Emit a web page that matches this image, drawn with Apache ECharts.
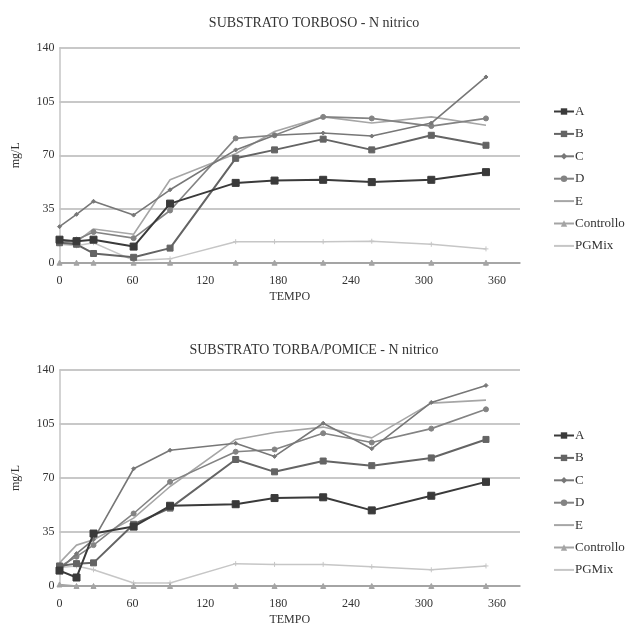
<!DOCTYPE html>
<html>
<head>
<meta charset="utf-8">
<script src="https://cdn.jsdelivr.net/npm/echarts@6/dist/echarts.min.js"></script>
<style>
html,body{margin:0;padding:0;background:#fff;}
#c{width:628px;height:627px;}
</style>
</head>
<body>
<div id="c"></div>
<script>
// Time points (days)
var days = [0, 14, 28, 61, 91, 145, 177, 217, 257, 306, 351];
var seriesNames = ['A', 'B', 'C', 'D', 'E', 'Controllo', 'PGMix'];
var yTicks = [0, 35, 70, 105, 140];
var xTicks = [0, 60, 120, 180, 240, 300, 360];

// SUBSTRATO TORBOSO
var tA = [15, 14, 15, 10.5, 38.5, 52, 53.5, 54, 52.5, 54, 59];
var tB = [13, 12, 6, 3.5, 9.5, 68, 73.5, 80.5, 73.5, 83, 76.5];
var tC = [23.5, 31.5, 40, 31, 47.5, 73.5, 83, 84.5, 82.5, 91, 121];
var tD = [13, 15, 20, 16, 34, 81, 83, 95, 94, 89, 94];
var tE = [12.5, 13.5, 22, 18.5, 54, 71, 85.5, 95, 91, 95, 89.5];
var tCtrl = [0, 0, 0, 0, 0, 0, 0, 0, 0, 0, 0];
var tPG = [12, 11, 13, 1.5, 2.5, 13.7, 13.7, 13.7, 14, 12, 9];

// SUBSTRATO TORBA/POMICE
var bA = [10, 5.5, 34, 38.5, 52, 53, 57, 57.5, 49, 58.5, 67.5];
var bB = [13, 14.5, 15, 40, 50.5, 82, 74, 81, 78, 83, 95];
var bC = [10.5, 21, 30, 76, 88, 92.5, 84, 105.5, 89, 119, 130];
var bD = [12.5, 19, 26.5, 47, 67.5, 87, 88.5, 99, 93, 102, 114.5];
var bE = [15, 26.5, 30, 44, 64.5, 95, 99.5, 103, 96, 118.5, 120.5];
var bCtrl = [1, 0, 0, 0, 0, 0, 0, 0, 0, 0, 0];
var bPG = [12, 13, 10.5, 2, 2, 14.5, 14, 14, 12.5, 10.5, 13];

var FONT = 'Liberation Serif';
var styles = [
  {color: '#3a3a3a', symbol: 'rect', size: 7, width: 2},
  {color: '#646464', symbol: 'rect', size: 6, width: 2},
  {color: '#777777', symbol: 'path://M0,4L4,0L8,4L4,8Z', size: 4, width: 1.6},
  {color: '#838383', symbol: 'circle', size: 5, width: 1.6},
  {color: '#a6a6a6', symbol: 'none', size: 0, width: 1.6},
  {color: '#a4a4a4', symbol: 'triangle', size: 5, width: 1.3},
  {color: '#c6c6c6', symbol: 'path://M0,4L8,4M4,0L4,8', size: 5, width: 1.5}
];

function pairs(vals) {
  return days.map(function (d, i) { return [d, vals[i]]; });
}

var topData = [tA, tB, tC, tD, tE, tCtrl, tPG];
var botData = [bA, bB, bC, bD, bE, bCtrl, bPG];

function makeAxes(gi) {
  var x = {
    type: 'value', gridIndex: gi, min: 0, max: 379, interval: 60,
    name: 'TEMPO', nameLocation: 'middle', nameGap: 28,
    nameTextStyle: {fontFamily: FONT, fontSize: 12, color: '#333'},
    axisLine: {show: true, lineStyle: {color: '#9a9a9a', width: 1.5}},
    axisTick: {show: false},
    splitLine: {show: false},
    axisLabel: {
      fontFamily: FONT, fontSize: 12, color: '#333', margin: 12,
      formatter: function (v) { return xTicks.indexOf(v) >= 0 ? String(v) : ''; }
    }
  };
  var y = {
    type: 'value', gridIndex: gi, min: 0, max: 140, interval: 35,
    name: 'mg/L', nameLocation: 'middle', nameGap: 38, nameRotate: 90,
    nameTextStyle: {fontFamily: FONT, fontSize: 12, color: '#333'},
    axisLine: {show: true, lineStyle: {color: '#c4c4c4', width: 1.5}},
    axisTick: {show: false},
    splitLine: {show: true, lineStyle: {color: '#c8c8c8', width: 2}},
    axisLabel: {
      fontFamily: FONT, fontSize: 12, color: '#333', margin: 5,
      formatter: function (v) { return yTicks.indexOf(v) >= 0 ? String(v) : ''; }
    }
  };
  return {x: x, y: y};
}

var a0 = makeAxes(0), a1 = makeAxes(1);
var series = [];
[topData, botData].forEach(function (set, gi) {
  set.forEach(function (vals, k) {
    var s = styles[k];
    series.push({
      type: 'line', name: seriesNames[k],
      xAxisIndex: gi, yAxisIndex: gi,
      data: pairs(vals),
      symbol: s.symbol === 'none' ? 'circle' : s.symbol,
      symbolSize: s.size, showSymbol: s.symbol !== 'none',
      lineStyle: {color: s.color, width: s.width},
      itemStyle: {color: s.color, borderColor: s.color},
      emphasis: {disabled: true},
      z: 10 - k,
      animation: false
    });
  });
});

function legendData() {
  return seriesNames.map(function (n) {
    if (n === 'E') return {name: n, itemStyle: {opacity: 0}};
    return {name: n};
  });
}

function legend(top) {
  return {
    orient: 'vertical', left: 548, top: top, itemGap: 9.4,
    itemWidth: 20, itemHeight: 8,
    textStyle: {fontFamily: FONT, fontSize: 13, lineHeight: 13, color: '#333', padding: [0, 0, 0, -4]},
    data: legendData()
  };
}

var chart = echarts.init(document.getElementById('c'), null, {renderer: 'canvas'});
chart.setOption({
  backgroundColor: '#ffffff',
  animation: false,
  title: [
    {text: 'SUBSTRATO TORBOSO - N nitrico', left: 'center', top: 11,
     textStyle: {fontFamily: FONT, fontSize: 14, fontWeight: 'normal', color: '#333'}},
    {text: 'SUBSTRATO TORBA/POMICE - N nitrico', left: 'center', top: 338,
     textStyle: {fontFamily: FONT, fontSize: 14, fontWeight: 'normal', color: '#333'}}
  ],
  legend: [legend(100), legend(424)],
  grid: [
    {left: 59.5, right: 108, top: 47.8, height: 214.9},
    {left: 59.5, right: 108, top: 370, height: 216}
  ],
  xAxis: [a0.x, a1.x],
  yAxis: [a0.y, a1.y],
  series: series
});
</script>
</body>
</html>
